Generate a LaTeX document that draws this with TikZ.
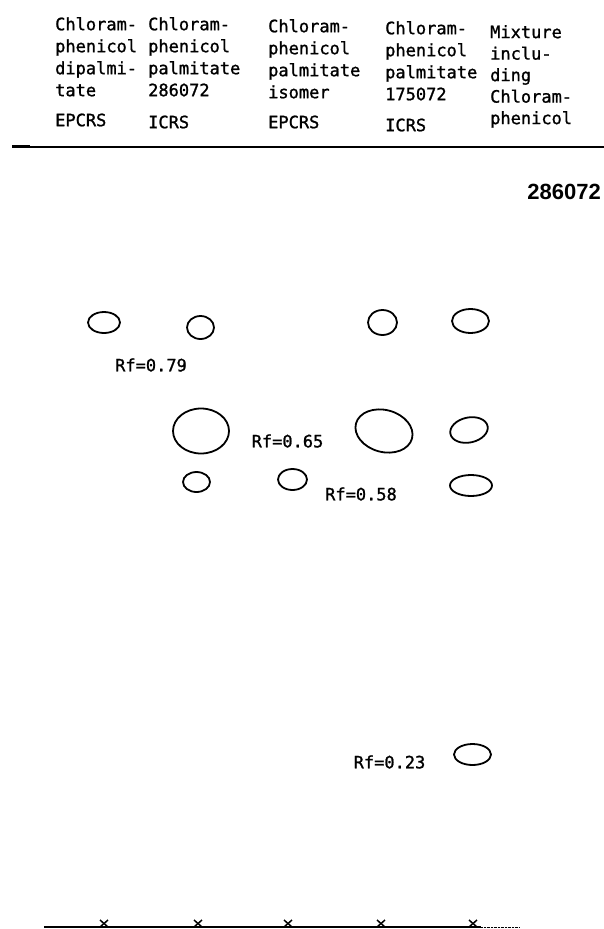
\documentclass[tikz,border=0pt]{standalone}
\usepackage{fontspec}
\newfontfamily\mono[FakeBold=1.2]{DejaVu Sans Mono}
\newfontfamily\headsans{Liberation Sans}
\usetikzlibrary{shapes.geometric}
\tikzset{
  lane/.style={font=\mono\fontsize{17}{22}\selectfont,align=left,
    anchor=north west,inner sep=0pt},
  rf/.style={font=\mono\fontsize{17}{22}\selectfont,inner sep=0pt},
  spot/.style={draw,ellipse,line width=1.8pt,inner sep=0pt},
}
\begin{document}
\begin{tikzpicture}[x=1pt,y=-1pt]
\useasboundingbox (0,0) rectangle (604,929);
% lane headings
\node[lane] (h1) at (55,17) {Chloram-\\phenicol\\dipalmi-\\tate\\[8pt]EPCRS};
\node[lane] (h2) at (148,17) {Chloram-\\phenicol\\palmitate\\286072\\[10pt]ICRS};
\node[lane] (h3) at (268,19) {Chloram-\\phenicol\\palmitate\\isomer\\[8pt]EPCRS};
\node[lane] (h4) at (385,21) {Chloram-\\phenicol\\palmitate\\175072\\[9pt]ICRS};
\node[lane,font=\mono\fontsize{17}{21.5}\selectfont] (h5) at (490,25)
  {Mixture\\inclu-\\ding\\Chloram-\\phenicol};
\draw[line width=1.4pt] (12,147) -- (604,147);
\draw[line width=2.6pt] (12,146.5) -- (30,146.5);
\draw[line width=2pt] (330,147.3) -- (604,147.3);
\node[font=\headsans\bfseries\fontsize{22}{25}\selectfont,anchor=east,
  inner sep=0pt] (ref) at (601,192) {286072};
% spots
\node[spot,minimum width=32pt,minimum height=21pt] (s1a) at (104,322.5) {};
\node[spot,minimum width=27pt,minimum height=23pt] (s2a) at (200.5,327.5) {};
\node[spot,minimum width=29pt,minimum height=25pt] (s4a) at (382.5,322.5) {};
\node[spot,minimum width=37pt,minimum height=24pt] (s5a) at (470.5,321) {};
\node[rf] (rf79) at (151,365) {Rf=0.79};
\node[spot,minimum width=56pt,minimum height=45pt] (s2b) at (201,431) {};
\node[rf] (rf65) at (287.5,441) {Rf=0.65};
\node[spot,minimum width=58pt,minimum height=42pt,rotate=-15] (s4b) at (384,431) {};
\node[spot,minimum width=38pt,minimum height=25pt,rotate=12] (s5b) at (469,430) {};
\node[spot,minimum width=27pt,minimum height=20pt] (s2c) at (196.5,482) {};
\node[spot,minimum width=29pt,minimum height=21pt] (s3c) at (292.5,479.5) {};
\node[rf] (rf58) at (361,494) {Rf=0.58};
\node[spot,minimum width=42pt,minimum height=21pt] (s5c) at (471,485.5) {};
\node[rf] (rf23) at (389.5,762) {Rf=0.23};
\node[spot,minimum width=37pt,minimum height=21pt] (s5d) at (472.5,754.5) {};
% origin line
\draw[line width=1.4pt] (44,927) -- (481,927);
\draw[densely dotted] (481,927) -- (519,927);
\foreach \xx in {104,198,288,381,473}{
  \draw[line width=1.5pt] (\xx-4,920) -- (\xx+4,927) (\xx+4,920) -- (\xx-4,927);
}
\end{tikzpicture}
\end{document}
